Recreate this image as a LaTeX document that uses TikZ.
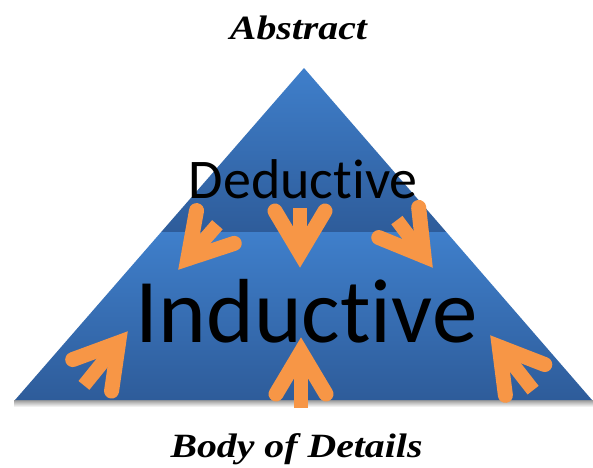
\documentclass[tikz,border=0pt]{standalone}
\usepackage{fontspec}
\setmainfont{Liberation Serif}
\newfontfamily\calibrifont[Ligatures=NoCommon]{Carlito}
\definecolor{ora}{HTML}{F79646}
\definecolor{bluetop}{HTML}{3F7FCB}
\definecolor{bluedark}{HTML}{2E5C9A}
\newcommand\orangearrow[4]{%
  \begin{scope}[shift={(#1,#2)}, rotate=#3]
    \draw[shaftline] (0,-12) -- (0,-#4);
    \draw[barbline] (-25,-57) -- (0,-15) -- (25,-57);
  \end{scope}}
\begin{document}
\begin{tikzpicture}[x=1pt,y=-1pt,
  barbline/.style={draw=ora, line width=15pt, line cap=round, line join=miter, miter limit=10},
  shaftline/.style={draw=ora, line width=14pt, line cap=butt},
  seriflabel/.style={font=\fontsize{34}{40}\selectfont\bfseries\itshape, xscale=1.17, anchor=base, inner sep=0pt},
  calibrilabel/.style={anchor=base, inner sep=0pt, text=black}
]
\useasboundingbox (0,0) rectangle (593,467);
\fill[white] (0,0) rectangle (593,467);
% shadow under base
\shade[top color=black!40, bottom color=white] (14,400) rectangle (593,407);
% pyramid
\shade[top color=bluetop, bottom color=bluedark] (304,68) -- (446.3,232) -- (161.2,232) -- cycle;
\shade[top color=bluetop, bottom color=bluedark] (161.2,232) -- (446.3,232) -- (592,400) -- (15,400) -- cycle;
% labels
\node[seriflabel] (abs) at (298.5,39) {Abstract};
\node[seriflabel] (body) at (296.5,457) {Body of Details};
\node[calibrilabel, font=\calibrifont\fontsize{56}{60}\selectfont] (ded) at (303.3,198.3) {Deductive};
\node[calibrilabel, font=\calibrifont\fontsize{91}{96}\selectfont] (ind) at (306.5,342) {Inductive};
% arrows
\orangearrow{300}{268}{0}{60}
\orangearrow{178}{270}{-41}{60}
\orangearrow{433}{268}{37}{60}
\orangearrow{301}{337}{180}{71}
\orangearrow{128}{331}{141}{70}
\orangearrow{490}{335}{218}{70}
\end{tikzpicture}
\end{document}
